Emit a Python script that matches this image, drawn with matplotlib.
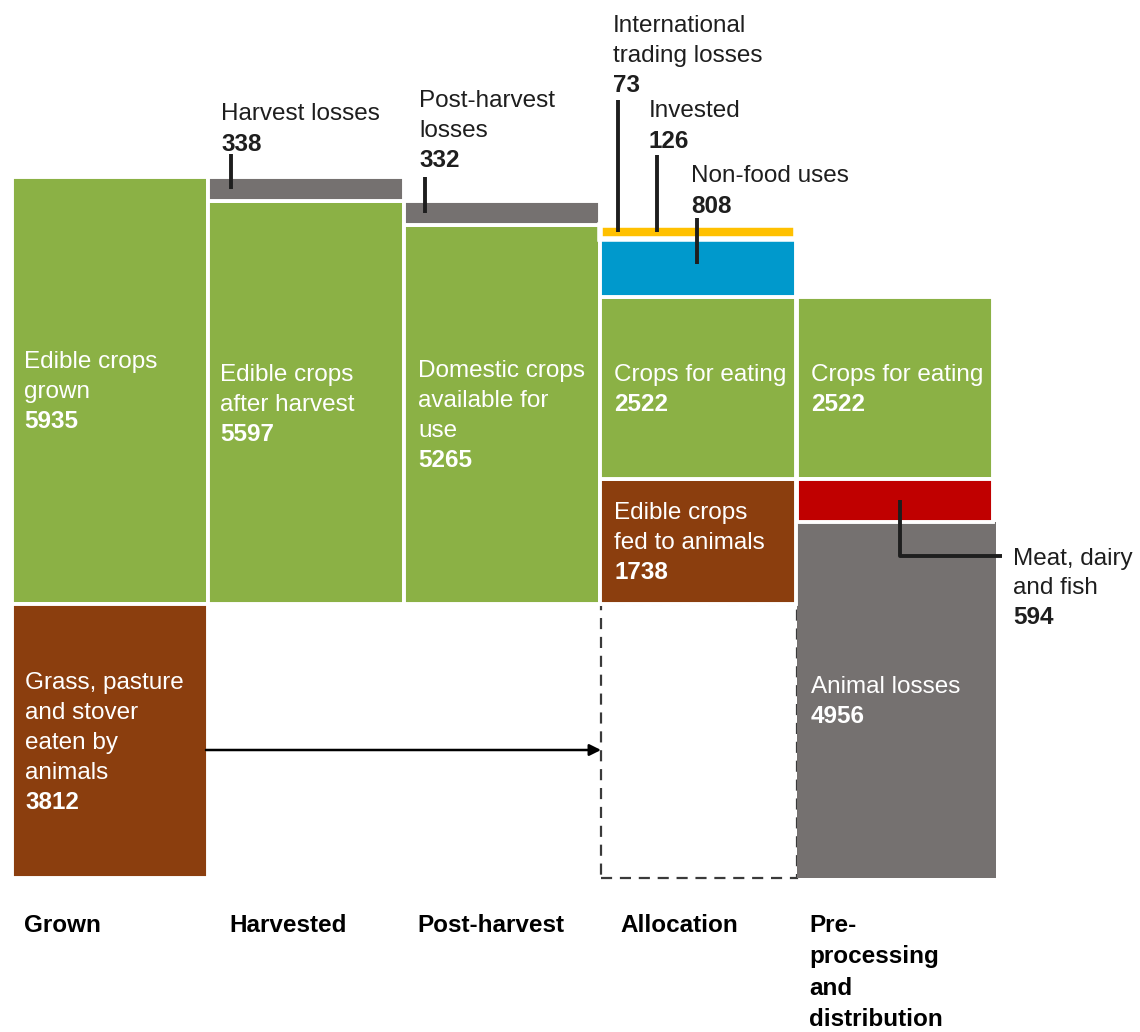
import matplotlib.pyplot as plt
from matplotlib.patches import Rectangle

plt.rcParams['font.family'] = ['Liberation Sans', 'DejaVu Sans']

# ---- values (kcal per person per day) ----
stages = ["Grown", "Harvested", "Post-harvest", "Allocation",
          "Pre-\nprocessing\nand\ndistribution"]
grown_edible = 5935
grass_eaten = 3812
harvest_losses = 338
after_harvest = 5597
post_harvest_losses = 332
domestic_available = 5265
trading_losses = 73
invested = 126
non_food = 808
crops_eating = 2522
fed_to_animals = 1738
meat_dairy_fish = 594
animal_losses = 4956

# ---- colours ----
GREEN = "#8BB145"
BROWN = "#8B3E0E"
GREY = "#757170"
BLUE = "#0099CC"
YELLOW = "#FFC000"
RED = "#C00000"
INK = "#1E1E1E"

# ---- layout ----
W, H = 1140, 1032
SCALE = 0.072          # pixels per unit
BASE = 604             # pixel row of the zero line
COL_LEFT = [12, 208, 404, 600, 797]
COL_W = 196
LINE = 30              # text line spacing in pixels
FS = 17.5

fig = plt.figure(figsize=(W / 100, H / 100), dpi=100)
ax = fig.add_axes([0, 0, 1, 1])
ax.set_xlim(0, W)
ax.set_ylim(-(H - BASE) / SCALE, BASE / SCALE)
ax.axis("off")


def val(row):
    """Pixel row -> value on the y axis."""
    return (BASE - row) / SCALE


def row(v):
    """Value on the y axis -> pixel row."""
    return BASE - v * SCALE


def seg(col, bottom, height, color, edge="white", lw=2.8, width=COL_W, z=2):
    ax.bar(COL_LEFT[col], height, bottom=bottom, width=width, align="edge",
           color=color, edgecolor=edge, linewidth=lw, zorder=z)


def block(x, center_row, lines, color="white"):
    n = len(lines)
    for i, (txt, bold) in enumerate(lines):
        base = center_row - (n - 1) / 2 * LINE + i * LINE + 8
        ax.text(x, val(base), txt, color=color, fontsize=FS,
                fontweight="bold" if bold else "normal",
                ha="left", va="baseline", zorder=6)


def note(x, first_baseline, lines, spacing=LINE):
    for i, (txt, bold) in enumerate(lines):
        ax.text(x, val(first_baseline + i * spacing), txt, color=INK,
                fontsize=FS, fontweight="bold" if bold else "normal",
                ha="left", va="baseline", zorder=6)


def leader(xs, rows):
    ax.plot(xs, [val(r) for r in rows], color=INK, lw=2.8,
            solid_capstyle="butt", zorder=7)


# ---- Grown ----
seg(0, 0, grown_edible, GREEN)
seg(0, -grass_eaten, grass_eaten, BROWN)

# ---- Harvested ----
seg(1, 0, after_harvest, GREEN)
seg(1, after_harvest, harvest_losses, GREY)

# ---- Post-harvest ----
seg(2, 0, domestic_available, GREEN)
seg(2, domestic_available, post_harvest_losses, GREY)

# ---- Allocation ----
alloc_top = fed_to_animals + crops_eating
seg(3, 0, fed_to_animals, BROWN)
seg(3, fed_to_animals, crops_eating, GREEN)
seg(3, alloc_top, non_food, BLUE)
seg(3, alloc_top + non_food, invested + trading_losses, YELLOW, lw=4.0)
# pasture flowing into the animals
ax.add_patch(Rectangle((COL_LEFT[3] + 1, -grass_eaten), COL_W, grass_eaten,
                       fill=False, edgecolor="#3A3A3A", lw=1.6,
                       linestyle=(0, (5, 3.5)), zorder=1))

# ---- Pre-processing and distribution ----
meat_bottom = fed_to_animals - meat_dairy_fish
seg(4, fed_to_animals, crops_eating, GREEN)
seg(4, -grass_eaten, animal_losses, GREY, edge="none", lw=0, width=199, z=1.5)
seg(4, meat_bottom, meat_dairy_fish, RED)

# ---- arrow from pasture to allocation ----
ax.annotate("", xy=(COL_LEFT[3] + 1, val(750)), xytext=(COL_LEFT[0] + 194, val(750)),
            arrowprops=dict(arrowstyle="-|>", color="black", lw=1.8,
                            mutation_scale=17, shrinkA=0, shrinkB=0),
            zorder=5)

# ---- labels inside the bars ----
def mid(bottom, height):
    return row(bottom + height / 2)

block(COL_LEFT[0] + 12, mid(0, grown_edible),
      [("Edible crops", False), ("grown", False), (str(grown_edible), True)])
block(COL_LEFT[0] + 13, mid(-grass_eaten, grass_eaten),
      [("Grass, pasture", False), ("and stover", False), ("eaten by", False),
       ("animals", False), (str(grass_eaten), True)])
block(COL_LEFT[1] + 12, mid(0, after_harvest),
      [("Edible crops", False), ("after harvest", False), (str(after_harvest), True)])
block(COL_LEFT[2] + 14, mid(0, domestic_available),
      [("Domestic crops", False), ("available for", False), ("use", False),
       (str(domestic_available), True)])
block(COL_LEFT[3] + 14, mid(fed_to_animals, crops_eating),
      [("Crops for eating", False), (str(crops_eating), True)])
block(COL_LEFT[3] + 14, mid(0, fed_to_animals),
      [("Edible crops", False), ("fed to animals", False), (str(fed_to_animals), True)])
block(COL_LEFT[4] + 14, mid(fed_to_animals, crops_eating),
      [("Crops for eating", False), (str(crops_eating), True)])
block(COL_LEFT[4] + 14, mid(-grass_eaten, animal_losses),
      [("Animal losses", False), (str(animal_losses), True)])

# ---- callouts ----
note(221, 120, [("Harvest losses", False), (str(harvest_losses), True)], spacing=31)
leader([231, 231], [154, mid(after_harvest, harvest_losses)])

note(419, 107, [("Post-harvest", False), ("losses", False),
                (str(post_harvest_losses), True)])
leader([425, 425], [177, mid(domestic_available, post_harvest_losses)])

yellow_mid = mid(alloc_top + non_food, invested + trading_losses)
note(613, 32, [("International", False), ("trading losses", False),
               (str(trading_losses), True)], spacing=30)
leader([618, 618], [100, yellow_mid])

note(649, 117, [("Invested", False), (str(invested), True)], spacing=31)
leader([657, 657], [155, yellow_mid])

note(691, 182, [("Non-food uses", False), (str(non_food), True)], spacing=31)
leader([697, 697], [218, 264])

note(1013, 565, [("Meat, dairy", False), ("and fish", False),
                 (str(meat_dairy_fish), True)], spacing=29.5)
leader([900, 900, 1002], [mid(meat_bottom, meat_dairy_fish), 556, 556])

# ---- stage names ----
stage_x = [24, 229, 417, 620, 809]
for x, name in zip(stage_x, stages):
    for i, part in enumerate(name.split("\n")):
        ax.text(x, val(932 + i * 31.5), part, color="black", fontsize=FS,
                fontweight="bold", ha="left", va="baseline")

fig.savefig("out.png", dpi=100, facecolor="white")
